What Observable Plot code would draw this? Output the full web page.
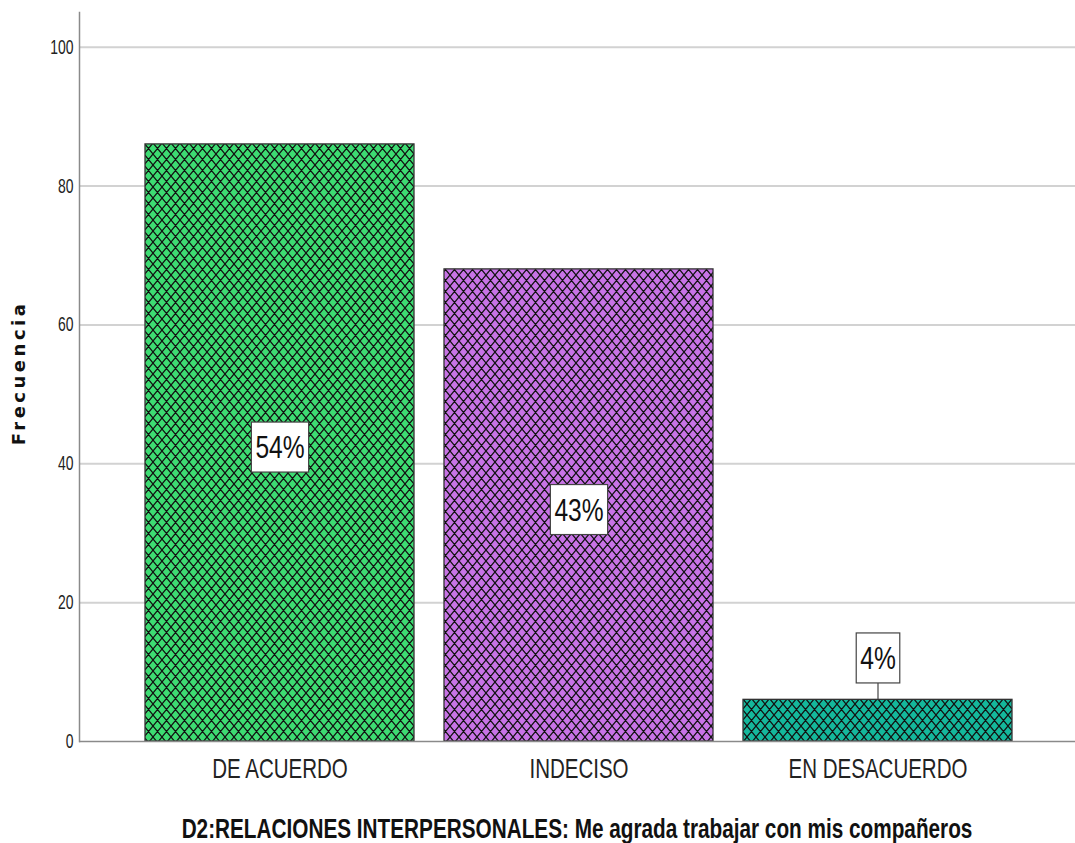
<!DOCTYPE html>
<html>
<head>
<meta charset="utf-8">
<script src="https://cdn.jsdelivr.net/npm/d3@7"></script>
<script src="https://cdn.jsdelivr.net/npm/@observablehq/plot@0.6"></script>
<style>
  html, body { margin: 0; padding: 0; background: white; }
  #title {
    font-family: 'Liberation Sans', Arial, sans-serif;
    font-weight: bold; font-size: 25.3px; line-height: 30px; color: #111;
    text-align: center; margin-left: 79px; width: 996px; margin-top: 13px;
    white-space: nowrap;
    transform: scale(0.82, 1.1); transform-origin: center;
  }
</style>
</head>
<body>
<svg width="0" height="0" style="position:absolute">
  <defs>
    <pattern id="pat-green" patternUnits="userSpaceOnUse" width="9" height="11">
      <rect width="9" height="11" fill="#3ddc72"/>
      <path d="M-9,-11L18,22M0,-11L18,11M-9,0L9,22M18,-11L-9,22M9,-11L-9,11M18,0L0,22" stroke="#111" stroke-width="1.25"/>
    </pattern>
    <pattern id="pat-purple" patternUnits="userSpaceOnUse" width="9" height="11">
      <rect width="9" height="11" fill="#c873e6"/>
      <path d="M-9,-11L18,22M0,-11L18,11M-9,0L9,22M18,-11L-9,22M9,-11L-9,11M18,0L0,22" stroke="#111" stroke-width="1.25"/>
    </pattern>
    <pattern id="pat-teal" patternUnits="userSpaceOnUse" width="9" height="11">
      <rect width="9" height="11" fill="#14b89c"/>
      <path d="M-9,-11L18,22M0,-11L18,11M-9,0L9,22M18,-11L-9,22M9,-11L-9,11M18,0L0,22" stroke="#111" stroke-width="1.25"/>
    </pattern>
  </defs>
</svg>
<div id="chart"></div>
<div id="title">D2:RELACIONES INTERPERSONALES: Me agrada trabajar con mis compañeros</div>
<script>
const categories = ["DE ACUERDO", "INDECISO", "EN DESACUERDO"];
const counts = [86, 68, 6];
const pctLabels = ["54%", "43%", "4%"];
const yTicks = [0, 20, 40, 60, 80, 100];
const yLabel = "Frecuencia";

const fills = ["url(#pat-green)", "url(#pat-purple)", "url(#pat-teal)"];
const data = categories.map((c, i) => ({cat: c, count: counts[i], label: pctLabels[i], fill: fills[i]}));
const inside = data.filter(d => d.count >= 10);
const above = data.filter(d => d.count < 10);

const chart = Plot.plot({
  width: 1075,
  height: 800,
  marginLeft: 79,
  marginRight: -4,
  marginTop: 12,
  marginBottom: 59,
  style: {fontFamily: "'Liberation Sans', Arial, sans-serif", fontSize: "17px", color: "#222", background: "white", overflow: "hidden"},
  x: {domain: categories, paddingInner: 0.1, paddingOuter: 0.22, label: null},
  y: {domain: [0, 105], label: null},
  color: {type: "identity"},
  marks: [
    Plot.gridY(yTicks.filter(t => t > 0), {stroke: "#d2d2d2", strokeOpacity: 1, strokeWidth: 2}),
    Plot.barY(data, {x: "cat", y: "count", fill: "fill", stroke: "#333", strokeWidth: 1.3}),
    Plot.ruleY([0], {stroke: "#8a8a8a", strokeWidth: 1.5}),
    Plot.frame({anchor: "left", stroke: "#8a8a8a", strokeWidth: 1.5}),
    Plot.axisY({ticks: yTicks, tickSize: 0, tickPadding: 6, fontSize: 17, label: null}),
    Plot.axisX({tickSize: 0, tickPadding: 18, fontSize: 25, label: null}),
    Plot.text(inside, {x: "cat", y: d => d.count / 2, text: "label", dy: 5, fontSize: 30, fill: "#111"}),
    Plot.text(above, {x: "cat", y: "count", text: "label", dy: -41, fontSize: 30, fill: "#111"}),
    Plot.text([yLabel], {text: d => d, frameAnchor: "left", textAnchor: "middle", dx: -60, dy: -4, rotate: -90, fontFamily: "'DejaVu Sans', sans-serif", fontWeight: "bold", fontSize: 18, fill: "#111"})
  ]
});
document.getElementById("chart").append(chart);

const NS = "http://www.w3.org/2000/svg";
function scaleText(t, sx, sy, anchor) {
  const b = t.getBBox();
  const ox = anchor === "end" ? b.x + b.width : b.x + b.width / 2;
  const oy = b.y + b.height / 2;
  const prev = t.getAttribute("transform") || "";
  t.setAttribute("transform", `${prev} translate(${ox},${oy}) scale(${sx},${sy}) translate(${-ox},${-oy})`);
  return {b, ox, oy, prev};
}
chart.querySelectorAll('g[aria-label="y-axis tick label"] text').forEach(t => scaleText(t, 0.82, 1.2, "end"));
chart.querySelectorAll('g[aria-label="x-axis tick label"] text').forEach(t => scaleText(t, 0.82, 1.08, "middle"));

const textGroups = chart.querySelectorAll('g[aria-label="text"]');
function boxes(group, connector) {
  if (!group) return;
  group.querySelectorAll("text").forEach(t => {
    const {b, ox, oy, prev} = scaleText(t, 0.82, 1.05, "middle");
    const bw = b.width * 0.82;
    const r = document.createElementNS(NS, "rect");
    r.setAttribute("x", ox - bw / 2 - 4);
    r.setAttribute("y", oy - 25);
    r.setAttribute("width", bw + 8);
    r.setAttribute("height", 50);
    r.setAttribute("fill", "white");
    r.setAttribute("stroke", "#444");
    r.setAttribute("stroke-width", 1.2);
    if (prev) r.setAttribute("transform", prev);
    t.parentNode.insertBefore(r, t);
    if (connector) {
      const l = document.createElementNS(NS, "line");
      l.setAttribute("x1", ox); l.setAttribute("x2", ox);
      l.setAttribute("y1", oy + 25); l.setAttribute("y2", oy + 41);
      l.setAttribute("stroke", "#444");
      l.setAttribute("stroke-width", 1.2);
      if (prev) l.setAttribute("transform", prev);
      t.parentNode.insertBefore(l, t);
    }
  });
}
boxes(textGroups[0], false);
boxes(textGroups[1], true);
if (textGroups[2]) textGroups[2].querySelectorAll("text").forEach(t => t.setAttribute("letter-spacing", "3.5"));
</script>
</body>
</html>
